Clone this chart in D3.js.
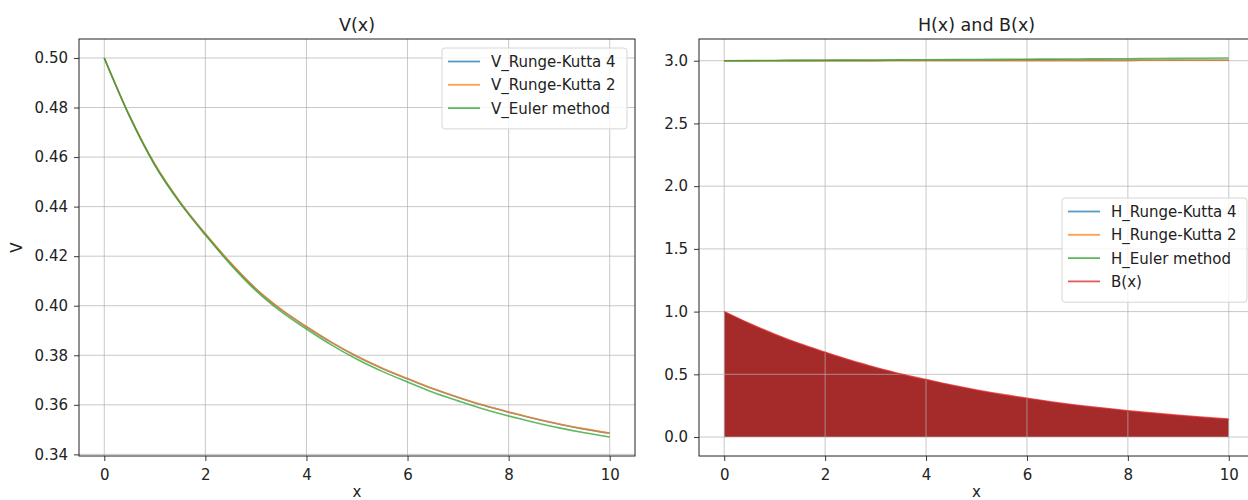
<!DOCTYPE html>
<html>
<head>
<meta charset="utf-8">
<script src="https://cdn.jsdelivr.net/npm/d3@7"></script>
<style>
  body { margin: 0; background: #fff; }
  svg { font-family: "DejaVu Sans", sans-serif; }
</style>
</head>
<body>
<svg width="1248" height="500"></svg>
<script>
// values, step 0.5 in x
var xs = [0, 0.5, 1, 1.5, 2, 2.5, 3, 3.5, 4, 4.5, 5, 5.5, 6, 6.5, 7, 7.5, 8, 8.5, 9, 9.5, 10];

var vRK4 = [0.5000, 0.4766, 0.4570, 0.4418, 0.4290, 0.4172, 0.4068, 0.3984, 0.3915, 0.3851, 0.3795,
            0.3747, 0.3705, 0.3665, 0.3630, 0.3598, 0.3570, 0.3545, 0.3522, 0.3502, 0.3485];
var vRK2 = [0.5000, 0.4766, 0.4571, 0.4418, 0.4290, 0.4173, 0.4068, 0.3985, 0.3915, 0.3852, 0.3796,
            0.3748, 0.3706, 0.3666, 0.3631, 0.3599, 0.3571, 0.3546, 0.3523, 0.3503, 0.3486];
var vEuler = [0.5000, 0.4764, 0.4567, 0.4414, 0.4285, 0.4166, 0.4061, 0.3976, 0.3906, 0.3841, 0.3784,
              0.3735, 0.3692, 0.3651, 0.3616, 0.3583, 0.3555, 0.3530, 0.3507, 0.3487, 0.3470];

var hRK4 = [3.000, 3.000, 3.000, 3.001, 3.001, 3.001, 3.001, 3.002, 3.002, 3.002, 3.002,
            3.002, 3.003, 3.003, 3.003, 3.003, 3.003, 3.004, 3.004, 3.004, 3.004];
var hRK2 = [3.000, 3.000, 3.000, 3.001, 3.001, 3.001, 3.001, 3.002, 3.002, 3.002, 3.002,
            3.002, 3.003, 3.003, 3.003, 3.003, 3.003, 3.004, 3.004, 3.004, 3.004];
var hEuler = [3.000, 3.001, 3.002, 3.003, 3.004, 3.005, 3.006, 3.007, 3.008, 3.009, 3.010,
              3.011, 3.012, 3.013, 3.014, 3.015, 3.016, 3.018, 3.019, 3.020, 3.022];

var bVals = [1.000, 0.905, 0.820, 0.743, 0.676, 0.612, 0.555, 0.503, 0.458, 0.414, 0.375,
             0.340, 0.309, 0.280, 0.254, 0.231, 0.210, 0.191, 0.173, 0.157, 0.143];

var xTicks = [0, 2, 4, 6, 8, 10];
var vTicks = [0.34, 0.36, 0.38, 0.40, 0.42, 0.44, 0.46, 0.48, 0.50];
var hTicks = [0.0, 0.5, 1.0, 1.5, 2.0, 2.5, 3.0];

var C = ["#1f77b4", "#ff7f0e", "#2ca02c", "#d62728"];

var svg = d3.select("svg");

function padded(arrs) {
  var lo = d3.min(arrs, function(a) { return d3.min(a); }),
      hi = d3.max(arrs, function(a) { return d3.max(a); }),
      p = (hi - lo) * 0.05;
  return [lo - p, hi + p];
}

function drawPanel(o) {
  var g = svg.append("g");
  var x = d3.scaleLinear().domain([-0.5, 10.5]).range([o.left, o.right]);
  var y = d3.scaleLinear().domain(o.yDomain).range([456, 39]);

  // fill_between goes under the grid
  if (o.fill) {
    var area = d3.area()
        .x(function(d, i) { return x(xs[i]); })
        .y0(y(0))
        .y1(function(d) { return y(d); })
        .curve(d3.curveMonotoneX);
    g.append("path").attr("d", area(o.fill)).attr("fill", "#a52a2a");
  }

  // grid
  g.selectAll(".gx").data(xTicks).enter().append("line")
      .attr("x1", function(d) { return x(d); }).attr("x2", function(d) { return x(d); })
      .attr("y1", 39).attr("y2", 456)
      .attr("stroke", "#b0b0b0").attr("stroke-opacity", 0.7).attr("stroke-width", 1);
  g.selectAll(".gy").data(o.yTicks).enter().append("line")
      .attr("y1", function(d) { return y(d); }).attr("y2", function(d) { return y(d); })
      .attr("x1", o.left).attr("x2", o.right)
      .attr("stroke", "#b0b0b0").attr("stroke-opacity", 0.7).attr("stroke-width", 1);

  var line = d3.line()
      .x(function(d, i) { return x(xs[i]); })
      .y(function(d) { return y(d); })
      .curve(d3.curveMonotoneX);

  o.series.forEach(function(s) {
    g.append("path").attr("d", line(s.values))
        .attr("fill", "none").attr("stroke", s.color)
        .attr("stroke-opacity", 0.75).attr("stroke-width", 1.6);
  });

  // frame
  g.append("rect").attr("x", o.left).attr("y", 39)
      .attr("width", o.right - o.left).attr("height", 456 - 39)
      .attr("fill", "none").attr("stroke", "#222").attr("stroke-width", 1);

  var xAxis = d3.axisBottom(x).tickValues(xTicks).tickFormat(d3.format("d"))
      .tickSize(5).tickPadding(8);
  var yAxis = d3.axisLeft(y).tickValues(o.yTicks).tickFormat(d3.format(o.fmt))
      .tickSize(5).tickPadding(6);

  [g.append("g").attr("transform", "translate(0,456)").call(xAxis),
   g.append("g").attr("transform", "translate(" + o.left + ",0)").call(yAxis)]
    .forEach(function(a) {
      a.select(".domain").remove();
      a.selectAll("line").attr("stroke", "#222").attr("stroke-width", 0.9);
      a.selectAll("text").attr("fill", "#222").style("font-size", "15px")
          .style("font-family", "DejaVu Sans, sans-serif");
    });

  var cx = (o.left + o.right) / 2;
  g.append("text").attr("x", cx).attr("y", 31).attr("text-anchor", "middle")
      .style("font-size", "17.5px").attr("fill", "#222").text(o.title);
  g.append("text").attr("x", cx).attr("y", 497).attr("text-anchor", "middle")
      .style("font-size", "15px").attr("fill", "#222").text("x");
  if (o.ylabel) {
    g.append("text").attr("transform", "translate(22," + ((39 + 456) / 2) + ") rotate(-90)")
        .attr("text-anchor", "middle").style("font-size", "15px").attr("fill", "#222")
        .text(o.ylabel);
  }

  // legend
  var lg = g.append("g");
  var items = o.series.slice();
  lg.append("rect").attr("x", o.legend.x).attr("y", o.legend.y)
      .attr("width", o.legend.w).attr("height", 11 + items.length * 23.3)
      .attr("rx", 3).attr("fill", "#fff").attr("fill-opacity", 0.8)
      .attr("stroke", "#d6d6d6");
  items.forEach(function(s, i) {
    var ly = o.legend.y + 13.5 + i * 23.3;
    lg.append("line").attr("x1", o.legend.x + 6).attr("x2", o.legend.x + 38)
        .attr("y1", ly).attr("y2", ly)
        .attr("stroke", s.color).attr("stroke-opacity", 0.75).attr("stroke-width", 1.8);
    lg.append("text").attr("x", o.legend.x + 49).attr("y", ly + 5.5)
        .style("font-size", "15px").attr("fill", "#222").text(s.name);
  });
}

drawPanel({
  left: 79, right: 635,
  yDomain: padded([vRK4, vRK2, vEuler]),
  yTicks: vTicks, fmt: ".2f",
  title: "V(x)", ylabel: "V",
  series: [
    {name: "V_Runge-Kutta 4", values: vRK4, color: C[0]},
    {name: "V_Runge-Kutta 2", values: vRK2, color: C[1]},
    {name: "V_Euler method", values: vEuler, color: C[2]}
  ],
  legend: {x: 442, y: 48, w: 185}
});

drawPanel({
  left: 699, right: 1254,
  yDomain: padded([hRK4, hRK2, hEuler, bVals, [0]]),
  yTicks: hTicks, fmt: ".1f",
  title: "H(x) and B(x)",
  fill: bVals,
  series: [
    {name: "H_Runge-Kutta 4", values: hRK4, color: C[0]},
    {name: "H_Runge-Kutta 2", values: hRK2, color: C[1]},
    {name: "H_Euler method", values: hEuler, color: C[2]},
    {name: "B(x)", values: bVals, color: C[3]}
  ],
  legend: {x: 1062, y: 198, w: 185}
});
</script>
</body>
</html>
